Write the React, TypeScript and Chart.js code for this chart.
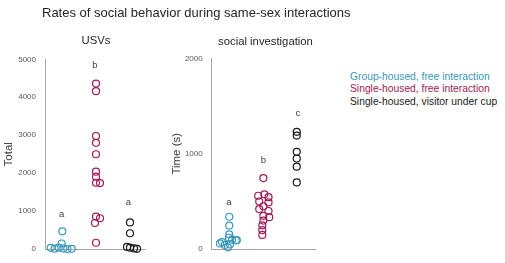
import React, { useEffect, useRef } from 'react';
import { Chart, registerables } from 'chart.js';

Chart.register(...registerables);

const FONT = '"Liberation Sans", Arial, sans-serif';

// Groups
const groupLabels = [
  'Group-housed, free interaction',
  'Single-housed, free interaction',
  'Single-housed, visitor under cup',
];
const groupColors = ['#3a98b9', '#a21a55', '#1a1a1a'];

// USVs panel (Total)
const usvGroupHoused = [470, 150, 35, 15, 40, 20, 5, 10];
const usvGroupHousedJitter = [0.02, 0, -0.33, -0.21, -0.09, 0.05, 0.17, 0.3];
const usvSingleFree = [4360, 4160, 2980, 2800, 2500, 2040, 1910, 1750, 1740, 860, 815, 690, 170];
const usvSingleFreeJitter = [0.03, 0.03, 0.03, 0.03, 0.03, 0.03, 0.03, 0.03, 0.15, 0.03, 0.15, 0, 0.03];
const usvSingleCup = [705, 420, 60, 40, 20, 10];
const usvSingleCupJitter = [0.05, 0.05, -0.04, 0.05, 0.17, 0.26];
const usvLetters = ['a', 'b', 'a'];
const usvLetterY = [930, 4850, 1225];
const usvMax = 5000;
const usvStep = 1000;

// Social investigation panel (Time (s))
const siGroupHoused = [340, 247, 155, 120, 100, 95, 75, 95, 60, 45, 50, 20];
const siGroupHousedJitter = [0.01, 0.01, 0.01, 0, 0.09, 0.2, -0.2, 0.23, -0.26, -0.12, 0.03, -0.03];
const siSingleFree = [745, 560, 575, 545, 500, 490, 450, 420, 400, 350, 335, 300, 250, 200, 150];
const siSingleFreeJitter = [0, -0.15, 0.03, 0.15, -0.12, 0.15, 0, -0.12, 0.15, 0, 0.17, 0, -0.03, -0.03, -0.03];
const siSingleCup = [1230, 1190, 1020, 950, 865, 700];
const siSingleCupJitter = [-0.03, -0.03, -0.03, -0.03, -0.03, -0.03];
const siLetters = ['a', 'b', 'c'];
const siLetterY = [490, 930, 1425];
const siMax = 2000;
const siStep = 1000;

type PanelProps = {
  left: number;
  width: number;
  yMax: number;
  yStep: number;
  yTitle: string;
  series: number[][];
  jitters: number[][];
  letters: string[];
  letterY: number[];
  padTop: number;
  padBottom: number;
  padRight: number;
  yWidth: number;
  titlePad: number;
};

function Panel(p: PanelProps) {
  const ref = useRef<HTMLCanvasElement | null>(null);
  useEffect(() => {
    if (!ref.current) return;
    const letterPlugin = {
      id: 'letters',
      afterDatasetsDraw(chart: any) {
        const ctx = chart.ctx;
        const xs = chart.scales.x;
        const ys = chart.scales.y;
        ctx.save();
        ctx.font = `9.5px ${FONT}`;
        ctx.fillStyle = '#404040';
        ctx.textAlign = 'center';
        ctx.textBaseline = 'middle';
        p.letters.forEach((l, i) => {
          ctx.fillText(l, xs.getPixelForValue(i + 1), ys.getPixelForValue(p.letterY[i]));
        });
        ctx.restore();
      },
    };
    const chart = new Chart(ref.current, {
      type: 'scatter',
      data: {
        datasets: p.series.map((vals, g) => ({
          label: groupLabels[g],
          data: vals.map((v, i) => ({ x: g + 1 + p.jitters[g][i], y: v })),
          pointStyle: 'circle',
          pointRadius: 3.5,
          pointHoverRadius: 3.5,
          pointBorderWidth: 1.2,
          borderColor: groupColors[g],
          backgroundColor: 'rgba(255,255,255,0)',
          clip: false as any,
        })),
      },
      options: {
        animation: false,
        responsive: false,
        events: [],
        layout: { padding: { left: 0, right: p.padRight, top: p.padTop, bottom: p.padBottom } },
        plugins: { legend: { display: false }, tooltip: { enabled: false } },
        scales: {
          x: {
            type: 'linear',
            min: 0.5,
            max: 3.5,
            ticks: { display: false },
            grid: { display: false, drawTicks: false },
            border: { display: true, color: '#a6a6a6', width: 1 },
            afterFit: (s: any) => {
              s.height = 0;
            },
          },
          y: {
            min: 0,
            max: p.yMax,
            ticks: {
              stepSize: p.yStep,
              font: { size: 8, family: FONT },
              color: '#595959',
              padding: 9,
              callback: (v: any) => String(v),
            },
            grid: { display: false, drawTicks: false },
            border: { display: true, color: '#a6a6a6', width: 1 },
            title: {
              display: true,
              text: p.yTitle,
              font: { size: 11.5, family: FONT },
              color: '#404040',
              padding: { top: p.titlePad, bottom: 0 },
            },
            afterFit: (s: any) => {
              s.width = p.yWidth;
            },
          },
        },
      },
      plugins: [letterPlugin],
    });
    return () => chart.destroy();
  }, []);
  return (
    <canvas
      ref={ref}
      width={p.width}
      height={263}
      style={{ position: 'absolute', left: p.left, top: 0, width: p.width, height: 263 }}
    />
  );
}

export default function App() {
  const textBase: React.CSSProperties = { position: 'absolute', fontFamily: FONT, whiteSpace: 'nowrap' };
  return (
    <div style={{ position: 'fixed', left: 0, top: 0, width: 505, height: 263, background: '#fff', overflow: 'hidden' }}>
      <Panel
        left={0}
        width={160}
        yMax={usvMax}
        yStep={usvStep}
        yTitle="Total"
        series={[usvGroupHoused, usvSingleFree, usvSingleCup]}
        jitters={[usvGroupHousedJitter, usvSingleFreeJitter, usvSingleCupJitter]}
        letters={usvLetters}
        letterY={usvLetterY}
        padTop={59.3}
        padBottom={9.7}
        padRight={15}
        yWidth={45}
        titlePad={2.4}
      />
      <Panel
        left={165}
        width={160}
        yMax={siMax}
        yStep={siStep}
        yTitle="Time (s)"
        series={[siGroupHoused, siSingleFree, siSingleCup]}
        jitters={[siGroupHousedJitter, siSingleFreeJitter, siSingleCupJitter]}
        letters={siLetters}
        letterY={siLetterY}
        padTop={58.3}
        padBottom={10.7}
        padRight={10}
        yWidth={46.7}
        titlePad={4.6}
      />
      <div style={{ ...textBase, left: 42, top: 5.7, fontSize: 13, lineHeight: '13px', color: '#262626' }}>
        Rates of social behavior during same-sex interactions
      </div>
      <div style={{ ...textBase, left: 96 - 100, width: 200, textAlign: 'center', top: 35.4, fontSize: 11.3, lineHeight: '11.3px', color: '#262626' }}>
        USVs
      </div>
      <div style={{ ...textBase, left: 265.5 - 100, width: 200, textAlign: 'center', top: 35.8, fontSize: 11.3, lineHeight: '11.3px', color: '#262626' }}>
        social investigation
      </div>
      <div style={{ ...textBase, left: 350, top: 70.9, fontSize: 10.3, lineHeight: '12.5px' }}>
        {groupLabels.map((l, i) => (
          <div key={l} style={{ color: groupColors[i] }}>
            {l}
          </div>
        ))}
      </div>
    </div>
  );
}
